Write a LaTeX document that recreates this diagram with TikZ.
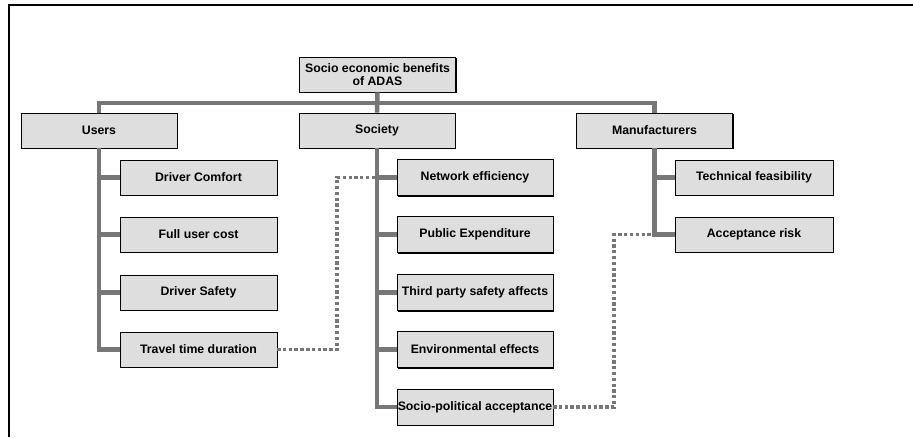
\documentclass[tikz,border=0pt]{standalone}
\usepackage{fontspec}
\setsansfont{Liberation Sans}
\usetikzlibrary{shadows}
\definecolor{boxfill}{HTML}{DEDEDE}
\definecolor{trunkgray}{HTML}{777777}
\begin{document}
\begin{tikzpicture}[x=1pt,y=-1pt,
  box/.style={draw=black, line width=0.9pt, fill=boxfill, inner sep=0pt,
    minimum width=156pt, minimum height=35pt, align=center,
    font=\sffamily\bfseries\fontsize{12.3}{13}\selectfont,
    drop shadow={shadow xshift=1.2pt, shadow yshift=-1.2pt, fill=black, opacity=1}},
  trunk/.style={draw=trunkgray, line width=4.5pt},
  dotline/.style={draw=trunkgray, line width=3.4pt, dash pattern=on 3.2pt off 2.6pt}]
\useasboundingbox (0,0) rectangle (913,437);
% frame
\draw[line width=2pt] (9,437) -- (9,5) -- (913,5);
% nodes
\node[box] (root) at (377.5,74.5) {Socio economic benefits\\of ADAS};
\node[box] (users) at (99,130.5) {Users};
\node[box] (society) at (377,130.5) {Society};
\node[box] (manuf) at (654.5,130.5) {Manufacturers};
\coordinate (bar) at (0,103);
\coordinate (d1) at (337,0);
\coordinate (d2) at (614,0);
% dotted links (below)
\draw[dotline] (277,349.5) -| (d1 |- 0,177.5) -- (397,177.5);
\draw[dotline] (553,407) -| (d2 |- 0,234.5) -- (675,234.5);
% trunks
\draw[trunk] (root.south) -- (society.north);
\draw[trunk] (users.north) -- (users.north |- bar) -- (manuf.north |- bar) -- (manuf.north);
\node[box, minimum width=157pt] (uc1) at (198.5,177.5) {Driver Comfort};
\node[box, minimum width=157pt] (uc2) at (198.5,234.5) {Full user cost};
\node[box, minimum width=157pt] (uc3) at (198.5,292.5) {Driver Safety};
\node[box, minimum width=157pt] (uc4) at (198.5,349.5) {Travel time duration};
\node[box, minimum height=36pt] (sc1) at (475,177.5) {Network efficiency};
\node[box, minimum height=36pt] (sc2) at (475,234.5) {Public Expenditure};
\node[box, minimum height=36pt] (sc3) at (475,292.5) {Third party safety affects};
\node[box, minimum height=36pt] (sc4) at (475,349.5) {Environmental effects};
\node[box, minimum height=36pt] (sc5) at (475,407) {Socio-political acceptance};
\node[box, minimum width=158pt] (mc1) at (754,177.5) {Technical feasibility};
\node[box, minimum width=158pt] (mc2) at (754,234.5) {Acceptance risk};
% branches
\draw[trunk] (users.south) |- (uc4.west);
\foreach \c in {uc1,uc2,uc3} \draw[trunk] (users.south |- \c.west) -- (\c.west);
\draw[trunk] (society.south) |- (sc5.west);
\foreach \c in {sc1,sc2,sc3,sc4} \draw[trunk] (society.south |- \c.west) -- (\c.west);
\draw[trunk] (manuf.south) |- (mc2.west);
\draw[trunk] (manuf.south |- mc1.west) -- (mc1.west);
% redraw dotted ends touching boxes
\draw[dotline] (uc4.east) -- (d1 |- uc4.east);
\draw[dotline] (sc5.east) -- (d2 |- sc5.east);
\end{tikzpicture}
\end{document}
